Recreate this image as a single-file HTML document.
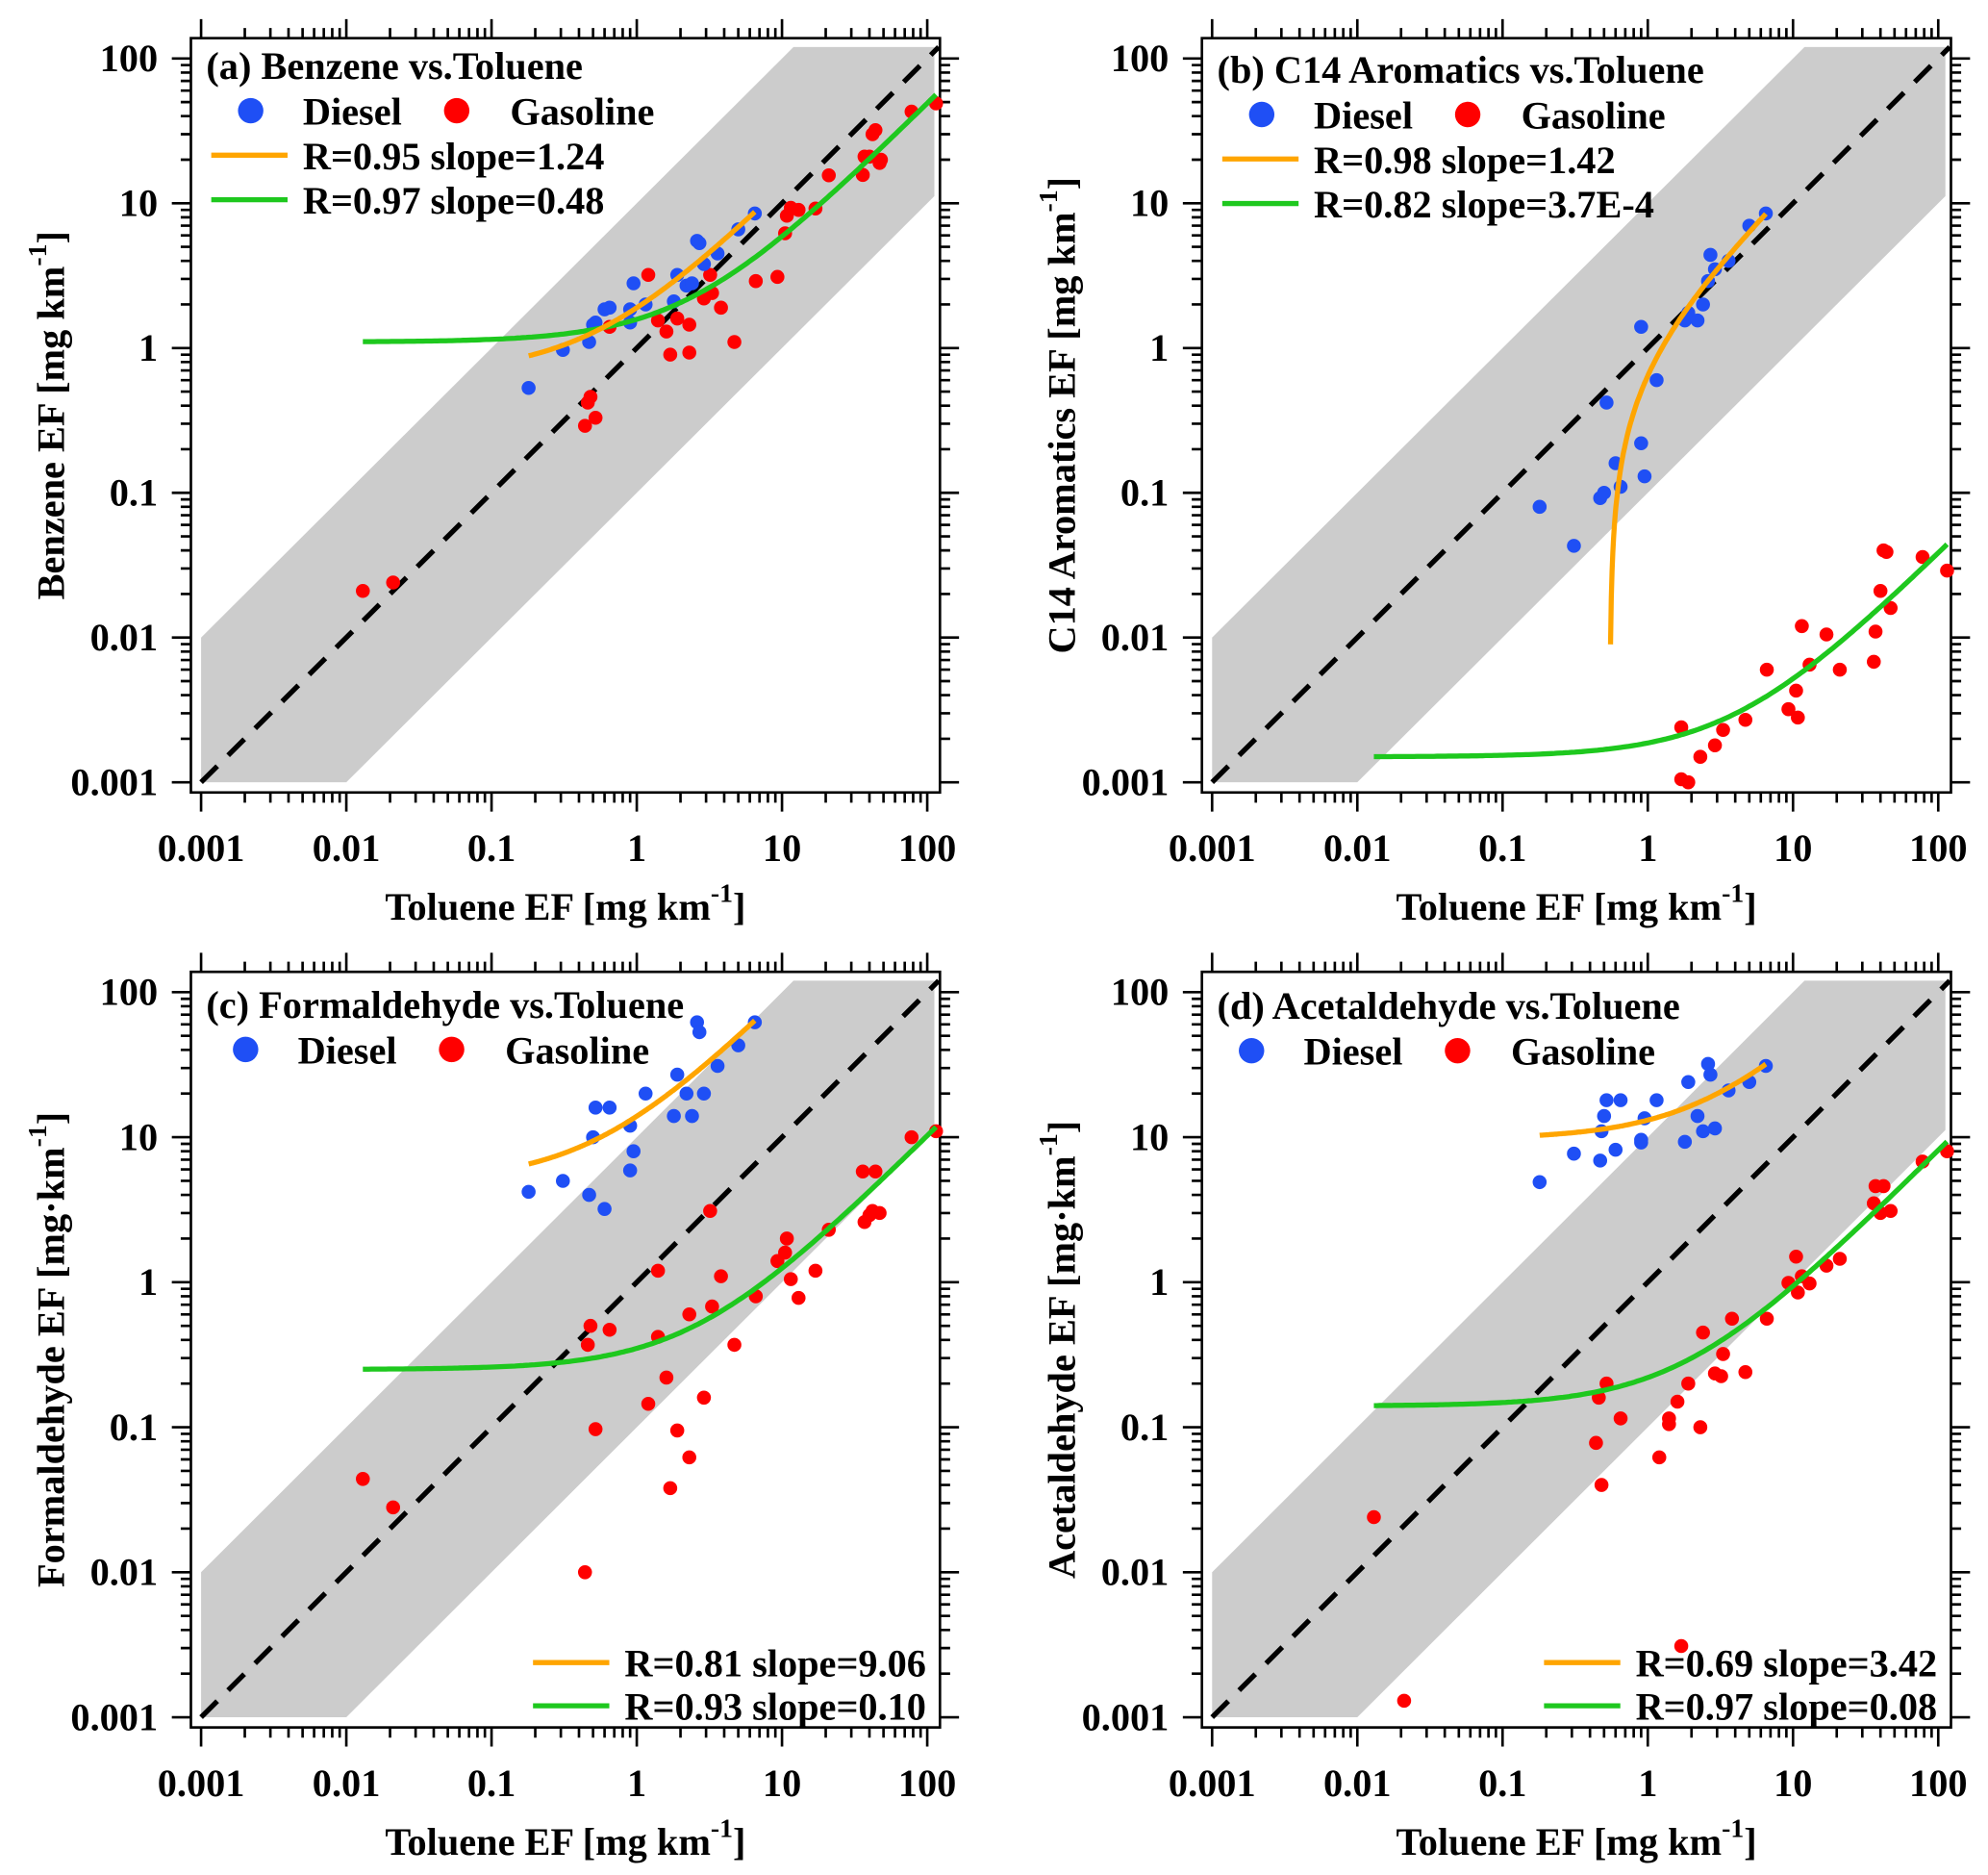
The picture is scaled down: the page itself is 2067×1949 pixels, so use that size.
<!DOCTYPE html>
<html><head><meta charset="utf-8">
<style>
html,body{margin:0;padding:0;background:#fff;}
svg{display:block;}
text{font-family:"Liberation Serif",serif;font-weight:bold;fill:#000;}
</style></head>
<body>
<svg id="chart" width="2067" height="1949" viewBox="0 0 1563 1474" xmlns="http://www.w3.org/2000/svg"></svg>
<script>
// ---- data ----
const dieselX = [0.18,0.31,0.47,0.5,0.52,0.6,0.65,0.9,0.9,0.95,1.15,1.8,1.9,2.2,2.4,2.6,2.7,2.9,3.6,5.0,6.5];
const benzeneDiesel = [0.53,0.97,1.1,1.45,1.5,1.85,1.9,1.5,1.85,2.8,2.0,2.1,3.2,2.7,2.8,5.5,5.3,3.8,4.5,6.6,8.5];
const c14Diesel = [0.08,0.043,0.092,0.1,0.42,0.16,0.11,0.22,1.4,0.13,0.6,1.55,1.75,1.55,2.0,2.9,4.4,3.5,4.0,7.0,8.5];
const formDiesel = [4.2,5.0,4.0,10,16,3.2,16,12,5.9,8,20,14,27,20,14,62,53,20,31,43,62];
const dieselXd = [0.18,0.31,0.47,0.48,0.5,0.52,0.6,0.65,0.9,0.9,0.95,1.15,1.8,1.9,2.2,2.4,2.6,2.7,2.9,3.6,5.0,6.5];
const acetDiesel = [4.9,7.7,6.9,11,14,18,8.2,18,9.2,9.6,13.5,18,9.3,24,14,11,32,27,11.5,21,24,31];

const gasXa = [0.013,0.021,0.44,0.46,0.48,0.52,0.65,1.2,1.4,1.6,1.7,1.9,2.3,2.3,2.9,3.2,3.3,3.8,4.7,6.6,9.3,10.5,10.8,11.5,13,17,21,36,37,40,42,44,47,48,78,115];
const benzeneGas = [0.021,0.024,0.29,0.42,0.46,0.33,1.4,3.2,1.55,1.3,0.9,1.6,1.45,0.93,2.2,3.2,2.4,1.9,1.1,2.9,3.1,6.2,8.2,9.3,9.0,9.2,15.6,15.7,21,21,30,32,19,20,43,49];
const gasXb = [1.7,1.9,1.7,2.3,2.9,3.3,4.7,6.6,9.3,10.5,10.8,11.5,13,17,21,36,37,40,42,44,47,78,115];
const c14Gas = [0.00105,0.001,0.0024,0.0015,0.0018,0.0023,0.0027,0.006,0.0032,0.0043,0.0028,0.012,0.0065,0.0105,0.006,0.0068,0.011,0.021,0.04,0.039,0.016,0.036,0.029];
const gasXc = [0.013,0.021,0.44,0.46,0.48,0.52,0.65,1.2,1.4,1.4,1.6,1.7,1.9,2.3,2.3,2.9,3.2,3.3,3.8,4.7,6.6,9.3,10.5,10.8,11.5,13,17,21,36,37,40,42,44,47,78,115];
const formGas = [0.044,0.028,0.01,0.37,0.5,0.097,0.47,0.145,1.2,0.42,0.22,0.038,0.095,0.6,0.062,0.16,3.1,0.68,1.1,0.37,0.8,1.4,1.6,2.0,1.05,0.78,1.2,2.3,5.8,2.6,2.9,3.1,5.8,3.0,10,11];
const gasXd = [0.013,0.021,0.44,0.46,0.48,0.52,0.65,1.2,1.4,1.4,1.6,1.7,1.9,2.3,2.4,2.9,3.2,3.3,3.8,4.7,6.6,9.3,10.5,10.8,11.5,13,17,21,36,37,40,42,47,78,115];
const acetGas = [0.024,0.0013,0.078,0.16,0.04,0.2,0.115,0.062,0.115,0.105,0.15,0.0031,0.2,0.1,0.45,0.235,0.225,0.32,0.56,0.24,0.56,0.99,1.5,0.85,1.1,0.98,1.3,1.45,3.5,4.6,3.0,4.6,3.1,6.8,8.0];

// fits: [intercept, slope, xStart, xEnd]
const fitOrange = [[0.66,1.24,0.18,6.5],[-0.777,1.42,0.5535,6.5],[4.9,9.06,0.18,6.5],[9.7,3.42,0.18,6.5]];
const fitGreen = [[1.1,0.48,0.013,115],[0.0015,3.7e-4,0.013,115],[0.25,0.10,0.013,115],[0.14,0.08,0.013,115]];
const fitLabelsO = ["R=0.95 slope=1.24","R=0.98 slope=1.42","R=0.81 slope=9.06","R=0.69 slope=3.42"];
const fitLabelsG = ["R=0.97 slope=0.48","R=0.82 slope=3.7E-4","R=0.93 slope=0.10","R=0.97 slope=0.08"];
const titles = ["(a) Benzene vs.Toluene","(b) C14 Aromatics vs.Toluene","(c) Formaldehyde vs.Toluene","(d) Acetaldehyde vs.Toluene"];
const yTitles = ["Benzene EF [mg km","C14 Aromatics EF [mg km","Formaldehyde EF [mg·km","Acetaldehyde EF [mg·km"];
const tickLabels = ["0.001","0.01","0.1","1","10","100"];

const NS="http://www.w3.org/2000/svg";
const svg=document.getElementById('chart');
function mk(tag,attrs,parent){const e=document.createElementNS(NS,tag);for(const k in attrs)e.setAttribute(k,attrs[k]);(parent||svg).appendChild(e);return e;}

const FS=30.5;
const panels=[
 {x0:158,y0:615,dx:114.2,dy:113.8,dX:dieselX,dY:benzeneDiesel,gX:gasXa,gY:benzeneGas,leg:'top',ly:50},
 {x0:953,y0:615,dx:114.2,dy:113.8,dX:dieselX,dY:c14Diesel,gX:gasXb,gY:c14Gas,leg:'top',ly:53},
 {x0:158,y0:1350,dx:114.2,dy:114,dX:dieselX,dY:formDiesel,gX:gasXc,gY:formGas,leg:'bottom',ly:788},
 {x0:953,y0:1350,dx:114.2,dy:114,dX:dieselXd,dY:acetDiesel,gX:gasXd,gY:acetGas,leg:'bottom',ly:789}
];

panels.forEach((p,i)=>{
 const g=mk('g',{});
 
 
 const X=v=>p.x0+(Math.log10(v)+3)*p.dx;
 const Y=v=>p.y0-(Math.log10(v)+3)*p.dy;
 const L=X(0.001)-8, R=X(100)+10, T=Y(100)-16, B=p.y0+8;
 const band=mk('polygon',{points:[[X(0.001),Y(0.001)],[X(0.001),Y(0.01)],[X(12),Y(120)],[X(112),Y(120)],[X(112),Y(11.2)],[X(0.01),Y(0.001)]].map(a=>a.join(',')).join(' '),fill:'#cccccc'},g);
 
 
 const one=mk('line',{x1:X(0.001),y1:Y(0.001),x2:X(120),y2:Y(120),stroke:'#000','stroke-width':4,'stroke-dasharray':'18,12'},g);
 
 
 const box=mk('rect',{x:L,y:T,width:R-L,height:B-T,fill:'none',stroke:'#000','stroke-width':2},g);
 
 
 let td='';
 for(let e=-3;e<=2;e++){
  for(let m=1;m<=9;m++){
   const v=m*Math.pow(10,e); if(v>100.01)break;
   const len=m===1?15:8;
   const x=X(v),y=Y(v);
   td+=`M${x},${B}v${len}M${x},${T}v${-len}M${L},${y}h${-len}M${R},${y}h${len}`;
  }
 }
 const ticks=mk('path',{d:td,stroke:'#000','stroke-width':2,fill:'none'},g);
 
 
 tickLabels.forEach((t,k)=>{
  const v=Math.pow(10,k-3);
  const xt=mk('text',{x:X(v),y:B+54,'text-anchor':'middle','font-size':FS},g); xt.textContent=t;
  
  
  const yt=mk('text',{x:L-26,y:Y(v)+10,'text-anchor':'end','font-size':FS},g); yt.textContent=t;
  
  
 });
 const xtitle=mk('text',{x:(L+R)/2,y:B+100,'text-anchor':'middle','font-size':FS},g);
 xtitle.innerHTML='Toluene EF [mg km<tspan dy="-14" font-size="21">-1</tspan><tspan dy="14">]</tspan>';
 
 
 const cy=(T+B)/2, cx=L-100;
 const ytitle=mk('text',{x:0,y:0,'text-anchor':'middle','font-size':FS,transform:`translate(${cx},${cy}) rotate(-90)`},g);
 ytitle.innerHTML=yTitles[i]+'<tspan dy="-14" font-size="21">-1</tspan><tspan dy="14">]</tspan>';
 
 
 function curve(f,color,name){
  const pts=[];const n=200;
  for(let k=0;k<=n;k++){const xv=f[2]*Math.pow(f[3]/f[2],k/n);const yv=f[0]+f[1]*xv;if(yv>0)pts.push(X(xv).toFixed(1)+','+Y(yv).toFixed(1));}
  const c=mk('polyline',{points:pts.join(' '),fill:'none',stroke:color,'stroke-width':4},g);
  
  
 }
 p.gX.forEach((x,k)=>{const c=mk('circle',{cx:X(x),cy:Y(p.gY[k]),r:5.5,fill:'#ff0000'},g);
  
  });
 p.dX.forEach((x,k)=>{const c=mk('circle',{cx:X(x),cy:Y(p.dY[k]),r:5.5,fill:'#1f4ff5'},g);
  
  });
 curve(fitGreen[i],'#1ec81e','gasoline-fit-curve');
 curve(fitOrange[i],'#ffa500','diesel-fit-curve');
 const lx=L+12;
 const tt=mk('text',{x:lx,y:p.ly+12,'font-size':FS},g); tt.textContent=titles[i];
 
 
 const my=p.ly+37;
 const off=(i===3)?-8:(i===2?-4:0);
 const m1=mk('circle',{cx:lx+35+off,cy:my,r:10,fill:'#1f4ff5'},g);
 
 
 const t1=mk('text',{x:lx+76+off,y:my+11,'font-size':FS},g); t1.textContent='Diesel';
 
 
 const m2=mk('circle',{cx:lx+197+off,cy:my,r:10,fill:'#ff0000'},g);
 
 
 const t2=mk('text',{x:lx+239+off,y:my+11,'font-size':FS},g); t2.textContent='Gasoline';
 
 
 let fx,fy1,fy2;
 if(p.leg==='top'){fx=lx+4;fy1=p.ly+72;fy2=p.ly+107;}
 else{fx=R-320;fy1=B-51;fy2=B-17;}
 [[fy1,'#ffa500',fitLabelsO[i],'legend-diesel-fit'],[fy2,'#1ec81e',fitLabelsG[i],'legend-gasoline-fit']].forEach(a=>{
  const ln=mk('line',{x1:fx,y1:a[0],x2:fx+60,y2:a[0],stroke:a[1],'stroke-width':4},g);
  
  
  const tx=mk('text',{x:fx+72,y:a[0]+11,'font-size':FS},g); tx.textContent=a[2];
  
  
 });
});
</script>
</body></html>
